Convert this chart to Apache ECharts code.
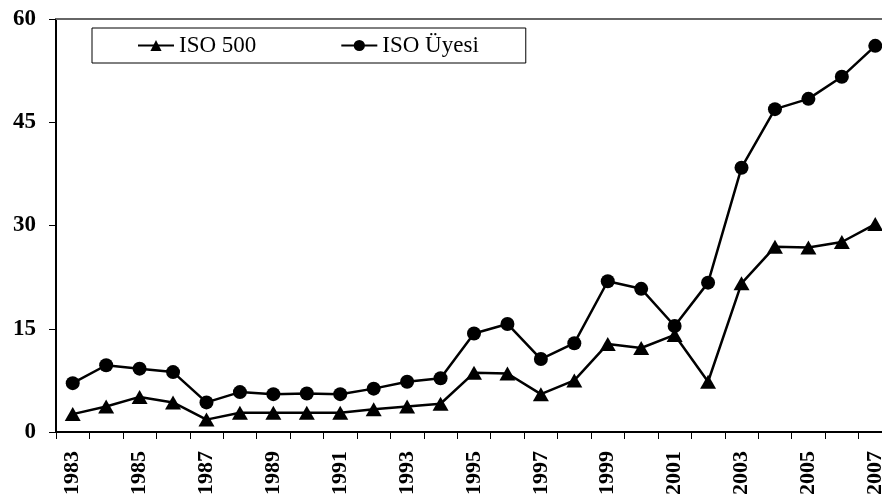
<!DOCTYPE html>
<html>
<head>
<meta charset="utf-8">
<script src="https://cdn.jsdelivr.net/npm/echarts@6/dist/echarts.min.js"></script>
<style>
  html, body { margin: 0; padding: 0; background: #fff; }
  #chart { width: 882px; height: 499px; }
</style>
</head>
<body>
<div id="chart"></div>
<script>
var years = ['1983', '1984', '1985', '1986', '1987', '1988', '1989', '1990', '1991', '1992',
  '1993', '1994', '1995', '1996', '1997', '1998', '1999', '2000', '2001', '2002',
  '2003', '2004', '2005', '2006', '2007']
var iso500 = [2.6, 3.7, 5.1, 4.3, 1.8, 2.8, 2.8, 2.8, 2.8, 3.3, 3.7, 4.1, 8.6, 8.5, 5.5,
  7.5, 12.8, 12.2, 14.1, 7.3, 21.6, 26.9, 26.8, 27.6, 30.2]
var isoUyesi = [7.1, 9.7, 9.2, 8.7, 4.3, 5.8, 5.5, 5.6, 5.5, 6.3, 7.3, 7.8, 14.3, 15.7, 10.6,
  12.9, 21.9, 20.8, 15.4, 21.7, 38.4, 46.9, 48.4, 51.6, 56.1]
var names = ['ISO 500', 'ISO Üyesi']

var font = '"Liberation Serif", "Times New Roman", serif'
var chart = echarts.init(document.getElementById('chart'))

chart.setOption({
  animation: false,
  textStyle: { fontFamily: font, color: '#000' },
  legend: {
    data: names,
    left: 92,
    top: 28,
    padding: [6, 47, 6, 45],
    itemGap: 84,
    itemWidth: 36,
    itemHeight: 14,
    borderColor: '#000',
    borderWidth: 1,
    textStyle: { fontFamily: font, fontSize: 23, color: '#000' }
  },
  grid: {
    left: 56,
    top: 19,
    bottom: 67,
    width: 836,
    outerBoundsMode: 'none'
  },
  xAxis: [
    {
      type: 'category',
      data: years,
      boundaryGap: true,
      axisLine: { lineStyle: { color: '#000', width: 2 } },
      axisTick: { show: true, interval: 0, length: 7, lineStyle: { color: '#000', width: 1 } },
      axisLabel: {
        interval: 1,
        rotate: 90,
        margin: 19,
        fontFamily: font,
        fontSize: 22,
        fontWeight: 'bold',
        color: '#000'
      }
    },
    {
      // top border of the plot
      type: 'category',
      data: years,
      position: 'top',
      axisLine: { lineStyle: { color: '#666', width: 2 } },
      axisTick: { show: false },
      axisLabel: { show: false }
    }
  ],
  yAxis: {
    type: 'value',
    min: 0,
    max: 60,
    interval: 15,
    axisLine: { show: true, lineStyle: { color: '#000', width: 2 } },
    axisTick: { show: true, length: 7, lineStyle: { color: '#000', width: 1 } },
    splitLine: { show: false },
    axisLabel: {
      margin: 20,
      fontFamily: font,
      fontSize: 23,
      fontWeight: 'bold',
      color: '#000'
    }
  },
  series: [
    {
      name: names[0],
      type: 'line',
      data: iso500,
      symbol: 'triangle',
      symbolSize: [16, 14],
      lineStyle: { color: '#000', width: 2.5 },
      itemStyle: { color: '#000' }
    },
    {
      name: names[1],
      type: 'line',
      data: isoUyesi,
      symbol: 'circle',
      symbolSize: 14,
      lineStyle: { color: '#000', width: 2.5 },
      itemStyle: { color: '#000' }
    }
  ]
})
</script>
</body>
</html>
